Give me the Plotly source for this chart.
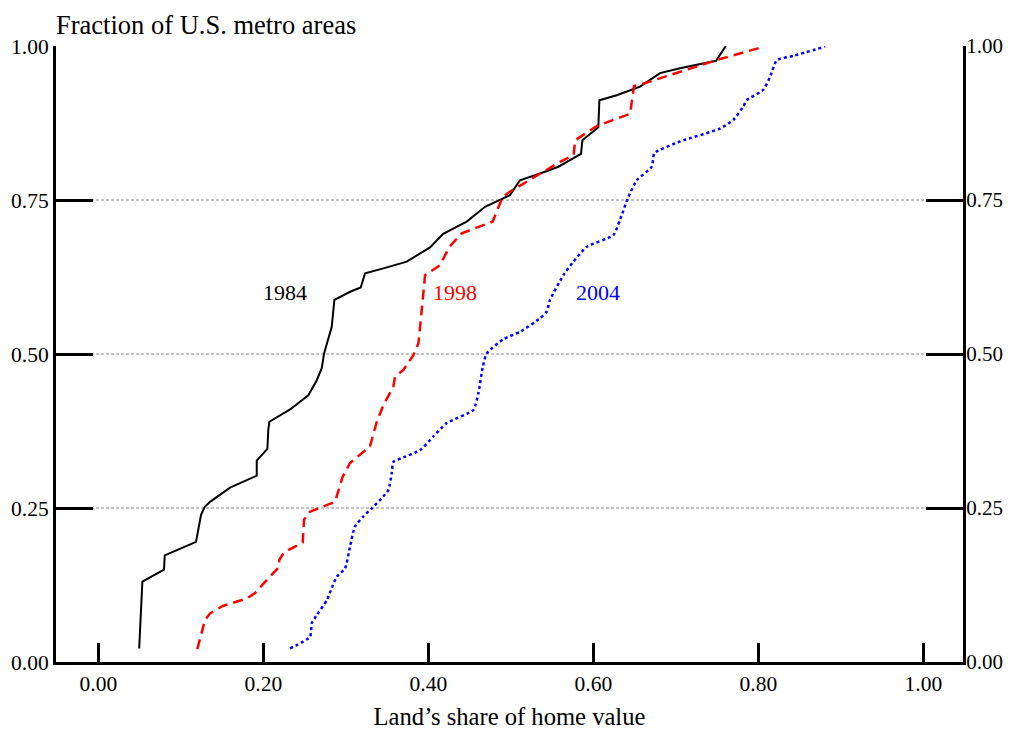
import plotly.graph_objects as go

# ---- data ----
x1984 = [0.0495, 0.0534, 0.0796, 0.0805, 0.1184, 0.1245, 0.129, 0.1354, 0.1596, 0.192, 0.192,
         0.2049, 0.206, 0.2073, 0.2324, 0.2545, 0.2646, 0.2708, 0.2736, 0.2829, 0.2861, 0.3051,
         0.318, 0.3233, 0.3455, 0.3738, 0.402, 0.418, 0.4465, 0.4687, 0.499, 0.511, 0.5354,
         0.5576, 0.585, 0.5867, 0.606, 0.6073, 0.6283, 0.6566, 0.6808, 0.705, 0.7487, 0.7605]
y1984 = [0.022, 0.1305, 0.150, 0.173, 0.195, 0.239, 0.252, 0.260, 0.283, 0.3025, 0.327,
         0.346, 0.377, 0.390, 0.410, 0.433, 0.457, 0.477, 0.501, 0.544, 0.588, 0.601,
         0.608, 0.631, 0.639, 0.650, 0.673, 0.695, 0.715, 0.739, 0.758, 0.782, 0.793,
         0.804, 0.825, 0.847, 0.868, 0.912, 0.920, 0.934, 0.956, 0.964, 0.976, 1.0]

x1998 = [0.12, 0.1293, 0.1354, 0.1508, 0.1799, 0.19, 0.2021, 0.2182, 0.2194, 0.2251, 0.2477,
         0.2493, 0.2566, 0.2869, 0.2962, 0.305, 0.3293, 0.3375, 0.3455, 0.3576, 0.3596, 0.3697,
         0.3818, 0.3879, 0.39, 0.396, 0.414, 0.4255, 0.4405, 0.478, 0.490, 0.4989, 0.5596,
         0.576, 0.578, 0.604, 0.6445, 0.6493, 0.6606, 0.7212, 0.7515, 0.804]
y1998 = [0.021, 0.068, 0.079, 0.091, 0.103, 0.112, 0.130, 0.153, 0.166, 0.178, 0.194,
         0.231, 0.244, 0.260, 0.301, 0.323, 0.350, 0.390, 0.417, 0.447, 0.463, 0.474,
         0.498, 0.517, 0.544, 0.628, 0.644, 0.674, 0.696, 0.715, 0.755, 0.7635, 0.812,
         0.823, 0.847, 0.870, 0.890, 0.935, 0.939, 0.965, 0.978, 0.998]

x2004 = [0.2324, 0.2566, 0.2587, 0.2647, 0.2768, 0.2829, 0.289, 0.299, 0.305, 0.311, 0.321,
         0.3314, 0.3435, 0.3515, 0.3556, 0.3576, 0.3677, 0.39, 0.406, 0.4223, 0.4545, 0.4606,
         0.4659, 0.4708, 0.4909, 0.5112, 0.5354, 0.5435, 0.5475, 0.5637, 0.5758, 0.592, 0.6242,
         0.6323, 0.6424, 0.6526, 0.6708, 0.674, 0.705, 0.7536, 0.7697, 0.7818, 0.7859, 0.806,
         0.8142, 0.8223, 0.8424, 0.8808]
y2004 = [0.022, 0.041, 0.063, 0.076, 0.100, 0.120, 0.1385, 0.152, 0.187, 0.220, 0.236,
         0.2495, 0.266, 0.279, 0.306, 0.325, 0.331, 0.344, 0.366, 0.388, 0.409, 0.436,
         0.479, 0.501, 0.524, 0.536, 0.558, 0.569, 0.588, 0.628, 0.650, 0.674, 0.693,
         0.718, 0.755, 0.782, 0.804, 0.826, 0.845, 0.866, 0.880, 0.902, 0.912, 0.929,
         0.950, 0.977, 0.984, 0.999]

x_ticks = [0.0, 0.2, 0.4, 0.6, 0.8, 1.0]
x_tick_labels = ["0.00", "0.20", "0.40", "0.60", "0.80", "1.00"]
y_ticks = [0.0, 0.25, 0.5, 0.75, 1.0]
y_tick_labels = ["0.00", "0.25", "0.50", "0.75", "1.00"]
grid_y = [0.25, 0.5, 0.75]

labels = ["1984", "1998", "2004"]
label_x = [0.226, 0.432, 0.606]
label_y = [0.6, 0.6, 0.6]
colors = ["black", "red", "blue"]

FONT = "Liberation Serif, Times New Roman, serif"

fig = go.Figure()
fig.add_trace(go.Scatter(x=x1984, y=y1984, mode="lines",
                         line=dict(color="black", width=2), hoverinfo="skip"))
fig.add_trace(go.Scatter(x=x1998, y=y1998, mode="lines",
                         line=dict(color="red", width=2.5, dash="10px,6px"), hoverinfo="skip"))
fig.add_trace(go.Scatter(x=x2004, y=y2004, mode="lines",
                         line=dict(color="blue", width=2.5, dash="3px,3px", shape="spline", smoothing=0.5),
                         hoverinfo="skip"))
# invisible trace for the right axis
fig.add_trace(go.Scatter(x=[0.5], y=[0.5], yaxis="y2", mode="markers",
                         marker=dict(opacity=0), hoverinfo="skip"))

for gy in grid_y:
    fig.add_shape(type="line", xref="paper", x0=0, x1=1, yref="y", y0=gy, y1=gy,
                  line=dict(color="#888888", width=1, dash="3px,2px"), layer="below")

for t, lx, ly, c in zip(labels, label_x, label_y, colors):
    fig.add_annotation(x=lx, y=ly, text=t, showarrow=False,
                       font=dict(family=FONT, size=22, color=c))

axis_common = dict(showgrid=False, zeroline=False, showline=True, linecolor="black", linewidth=3,
                   ticks="inside", tickcolor="black", tickwidth=3, automargin=False)

# page body has an 8px margin, so the figure is sized/placed to compensate
fig.update_layout(
    width=1005, height=722,
    margin=dict(l=48, r=50, t=38, b=68, autoexpand=False),
    paper_bgcolor="white", plot_bgcolor="white",
    showlegend=False,
    title=dict(text="Fraction of U.S. metro areas", xref="paper", x=0, xanchor="left",
               yref="container", y=1, yanchor="top", pad=dict(t=7, l=0),
               font=dict(family=FONT, size=26.5, color="black")),
    xaxis=dict(range=[-0.0513, 1.048], tickvals=x_ticks, ticktext=x_tick_labels, ticklen=19,
               tickfont=dict(family=FONT, size=21.5, color="black"),
               title=dict(text="Land’s share of home value", standoff=19,
                          font=dict(family=FONT, size=24.6, color="black")),
               **axis_common),
    yaxis=dict(range=[0, 1], tickvals=y_ticks, ticktext=y_tick_labels, ticklen=37,
               tickfont=dict(family=FONT, size=21.5, color="black"),
               side="left", **axis_common),
    yaxis2=dict(range=[0, 1], tickvals=y_ticks, ticktext=y_tick_labels, ticklen=37,
                tickfont=dict(family=FONT, size=21, color="black"), ticklabelstandoff=-4,
                overlaying="y", side="right", anchor="x", **axis_common),
)

fig.write_html("out.html")
